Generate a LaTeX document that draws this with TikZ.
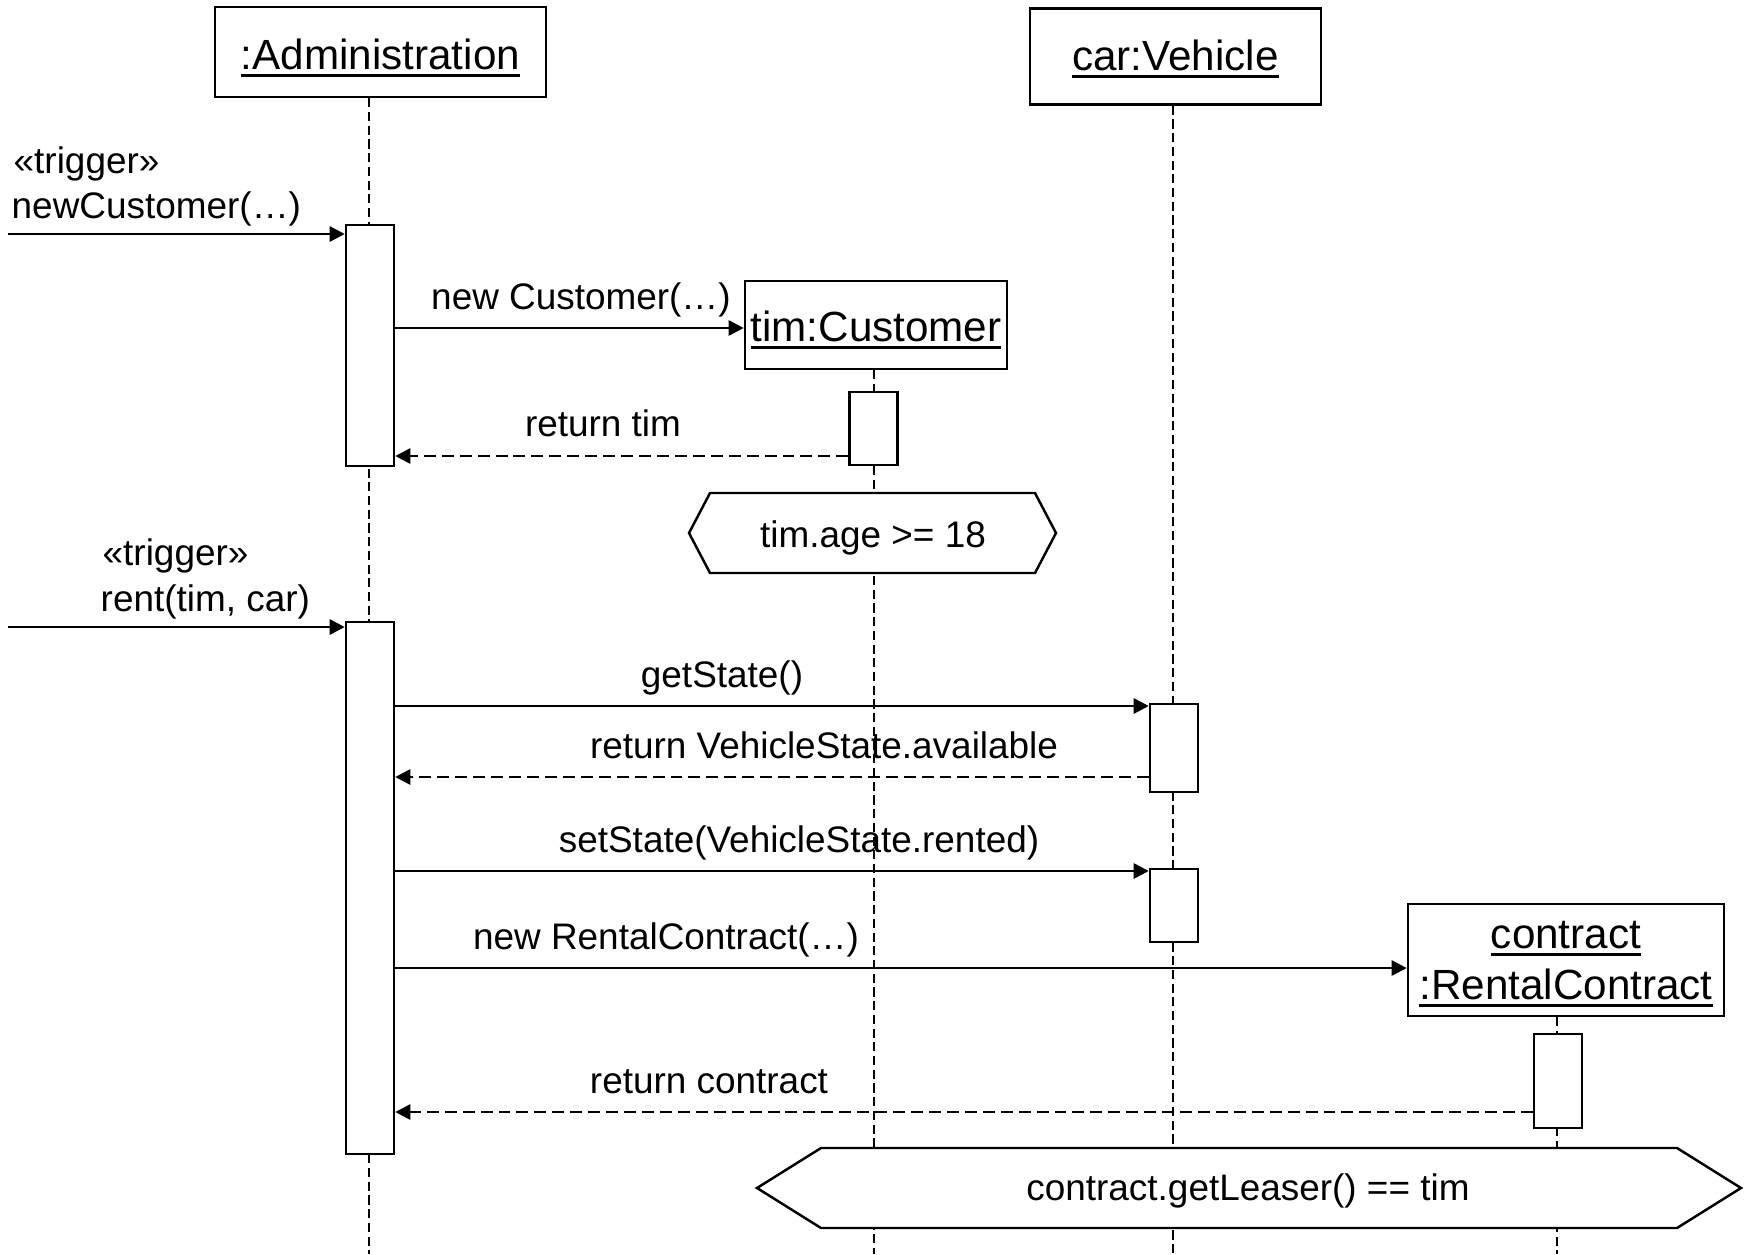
\documentclass[tikz,border=0pt]{standalone}
\usepackage{fontspec}
\setmainfont{Liberation Sans}
\usetikzlibrary{arrows.meta}
\newcommand\ulin[1]{\vtop{\hbox{#1}\kern1.2pt\hrule height 0.9pt}}
\begin{document}
\begin{tikzpicture}[x=0.01cm,y=-0.01cm,
  obj/.style={draw,line width=0.7pt,fill=white,inner sep=0pt},
  objtext/.style={inner sep=0pt,anchor=base,align=center,font=\fontsize{12}{14.8}\selectfont},
  actbox/.style={draw,line width=0.7pt,fill=white,inner sep=0pt,minimum width=0.48cm},
  life/.style={line width=0.5pt,dash pattern=on 2.6pt off 1.3pt},
  msg/.style={line width=0.75pt,-{Triangle[length=4.3pt,width=4.3pt]}},
  ret/.style={line width=0.75pt,dash pattern=on 3.4pt off 1.7pt,-{Triangle[length=4.3pt,width=4.3pt]}},
  inv/.style={draw,line width=0.7pt,fill=white},
  lbl/.style={inner sep=0pt,font=\fontsize{10.5}{12.8}\selectfont}]
\useasboundingbox (0,0) rectangle (1754,1254);

% object heads
\node[obj,minimum width=3.31cm,minimum height=0.9cm] (adm) at (380.5,52) {};
\node[objtext] (admT) at (380.5,69) {\ulin{:Administration}};
\node[obj,minimum width=2.91cm,minimum height=0.96cm] (car) at (1175.5,56.5) {};
\node[objtext] (carT) at (1175.5,70) {\ulin{car:Vehicle}};
\node[obj,minimum width=2.62cm,minimum height=0.88cm] (cust) at (876,325) {};
\node[objtext] (custT) at (876,341) {\ulin{tim:Customer}};
\node[obj,minimum width=3.16cm,minimum height=1.12cm] (ctr) at (1566,960) {};
\node[objtext] (ctrT1) at (1566,948) {\ulin{contract}};
\node[objtext] (ctrT2) at (1566,999) {\ulin{:RentalContract}};

% lifelines
\draw[life] (369,0 |- adm.south) -- (369,1254);
\draw[life] (874,0 |- cust.south) -- (874,1254);
\draw[life] (1173,0 |- car.south) -- (1173,1254);
\draw[life] (1557,0 |- ctr.south) -- (1557,1254);

% state invariants
\path[inv] (689,533) -- (710,493) -- (1035,493) -- (1056,533) -- (1035,573) -- (710,573) -- cycle;
\node[lbl,anchor=base] (inv1) at (873,547) {tim.age >= 18};
\path[inv] (757,1188) -- (821,1148) -- (1677,1148) -- (1741,1188) -- (1677,1228) -- (821,1228) -- cycle;
\node[lbl,anchor=base] (inv2) at (1248,1200) {contract.getLeaser() == tim};

% activations
\node[actbox,minimum height=2.41cm] (act1) at (370,345.5) {};
\node[actbox,minimum height=0.73cm] (cact) at (873.5,428.5) {};
\node[actbox,minimum height=5.32cm] (act2) at (370,888) {};
\node[actbox,minimum height=0.88cm] (va1) at (1174,748) {};
\node[actbox,minimum height=0.73cm] (va2) at (1174,905.5) {};
\node[actbox,minimum height=0.94cm] (kact) at (1558,1081) {};

% messages
\coordinate (t1) at (8,234);
\draw[msg] (t1) -- (t1 -| act1.west);
\node[lbl,anchor=base west] (l1a) at (13,173) {«trigger»};
\node[lbl,anchor=base west] (l1b) at (11,218) {newCustomer(…)};

\draw[msg] (act1.east |- 0,328) -- (cust.west |- 0,328);
\node[lbl,anchor=base] (l2) at (581,309) {new Customer(…)};

\draw[ret] (cact.west |- 0,456) -- (act1.east |- 0,456);
\node[lbl,anchor=base] (l3) at (603,436) {return tim};

\coordinate (t2) at (8,627);
\draw[msg] (t2) -- (t2 -| act2.west);
\node[lbl,anchor=base west] (l4a) at (102,565) {«trigger»};
\node[lbl,anchor=base west] (l4b) at (100,611) {rent(tim, car)};

\draw[msg] (act2.east |- 0,706) -- (va1.west |- 0,706);
\node[lbl,anchor=base] (l5) at (722,687) {getState()};

\draw[ret] (va1.west |- 0,777) -- (act2.east |- 0,777);
\node[lbl,anchor=base] (l6) at (824,758) {return VehicleState.available};

\draw[msg] (act2.east |- 0,871) -- (va2.west |- 0,871);
\node[lbl,anchor=base] (l7) at (799,852) {setState(VehicleState.rented)};

\draw[msg] (act2.east |- 0,968) -- (ctr.west |- 0,968);
\node[lbl,anchor=base] (l8) at (666,949) {new RentalContract(…)};

\draw[ret] (kact.west |- 0,1112) -- (act2.east |- 0,1112);
\node[lbl,anchor=base] (l9) at (709,1093) {return contract};
\end{tikzpicture}
\end{document}
